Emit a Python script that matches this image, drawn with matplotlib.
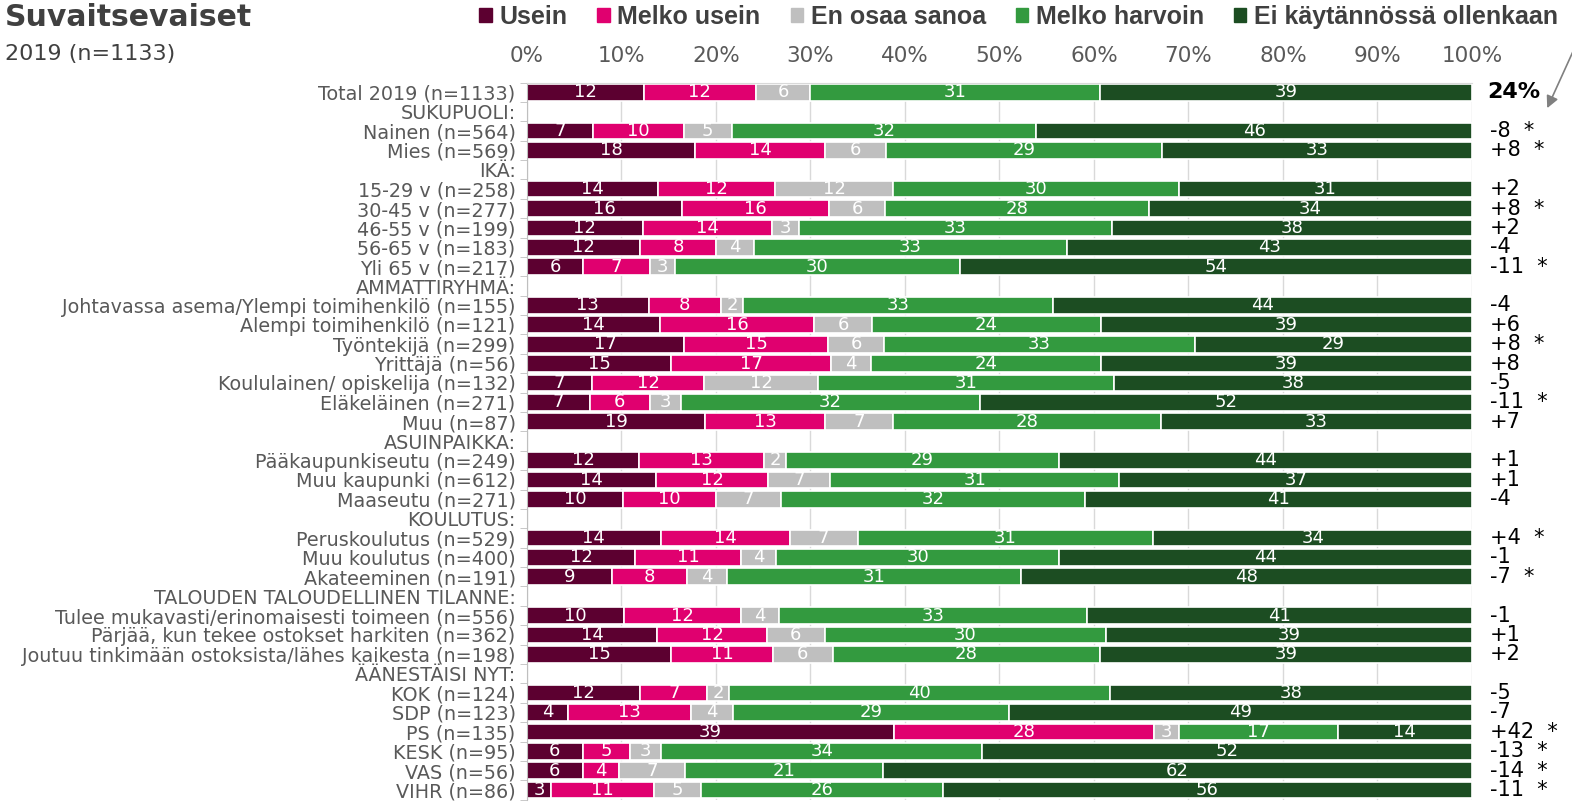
import numpy as np
import matplotlib
matplotlib.use("Agg")
import matplotlib.pyplot as plt
from matplotlib.patches import Patch
from matplotlib import font_manager

nan = np.nan

labels = ["Total 2019 (n=1133)", "SUKUPUOLI:", "Nainen (n=564)", "Mies (n=569)", "IKÄ:",
          "15-29 v (n=258)", "30-45 v (n=277)", "46-55 v (n=199)", "56-65 v (n=183)", "Yli 65 v (n=217)",
          "AMMATTIRYHMÄ:", "Johtavassa asema/Ylempi toimihenkilö (n=155)", "Alempi toimihenkilö (n=121)",
          "Työntekijä (n=299)", "Yrittäjä (n=56)", "Koululainen/ opiskelija (n=132)", "Eläkeläinen (n=271)",
          "Muu (n=87)", "ASUINPAIKKA:", "Pääkaupunkiseutu (n=249)", "Muu kaupunki (n=612)", "Maaseutu (n=271)",
          "KOULUTUS:", "Peruskoulutus (n=529)", "Muu koulutus (n=400)", "Akateeminen (n=191)",
          "TALOUDEN TALOUDELLINEN TILANNE:", "Tulee mukavasti/erinomaisesti toimeen (n=556)",
          "Pärjää, kun tekee ostokset harkiten (n=362)", "Joutuu tinkimään ostoksista/lähes kaikesta (n=198)",
          "ÄÄNESTÄISI NYT:", "KOK (n=124)", "SDP (n=123)", "PS (n=135)", "KESK (n=95)", "VAS (n=56)", "VIHR (n=86)"]

# shares in %, nan = group header row
usein = [12.4, nan, 7.0, 17.8, nan, 13.9, 16.4, 12.3, 12.0, 6.0, nan, 12.9, 14.1, 16.6, 15.3, 6.9, 6.7, 18.9,
         nan, 11.9, 13.7, 10.2, nan, 14.2, 11.5, 9.0, nan, 10.3, 13.8, 15.3, nan, 12.0, 4.4, 38.8, 5.9, 5.9, 2.6]
melko_usein = [11.8, nan, 9.6, 13.8, nan, 12.4, 15.6, 13.6, 8.0, 7.0, nan, 7.6, 16.3, 15.3, 16.9, 11.9, 6.3, 12.7,
               nan, 13.2, 11.8, 9.8, nan, 13.6, 11.2, 7.9, nan, 12.4, 11.6, 10.7, nan, 7.1, 13.0, 27.6, 5.0, 3.9, 10.9]
en_osaa = [5.8, nan, 5.1, 6.4, nan, 12.4, 5.9, 2.9, 4.0, 2.7, nan, 2.4, 6.1, 5.9, 4.2, 12.0, 3.3, 7.1,
           nan, 2.3, 6.6, 6.9, nan, 7.2, 3.7, 4.3, nan, 4.0, 6.1, 6.4, nan, 2.3, 4.4, 2.6, 3.3, 6.9, 4.9]
melko_harvoin = [30.6, nan, 32.2, 29.2, nan, 30.3, 27.9, 33.1, 33.2, 30.1, nan, 32.8, 24.2, 32.9, 24.3, 31.3, 31.7, 28.4,
                 nan, 28.9, 30.6, 32.2, nan, 31.3, 29.9, 31.1, nan, 32.6, 29.8, 28.2, nan, 40.3, 29.2, 16.8, 34.0, 21.0, 25.6]
ei_lainkaan = [39.4, nan, 46.1, 32.8, nan, 31.0, 34.2, 38.1, 42.8, 54.2, nan, 44.3, 39.3, 29.3, 39.3, 37.9, 52.0, 32.9,
               nan, 43.7, 37.3, 40.9, nan, 33.7, 43.7, 47.7, nan, 40.7, 38.7, 39.4, nan, 38.3, 49.0, 14.2, 51.8, 62.3, 56.0]

diffs = ["24%", "", "-8 *", "+8 *", "", "+2", "+8 *", "+2", "-4", "-11 *", "", "-4", "+6", "+8 *", "+8", "-5",
         "-11 *", "+7", "", "+1", "+1", "-4", "", "+4 *", "-1", "-7 *", "", "-1", "+1", "+2", "", "-5", "-7",
         "+42 *", "-13 *", "-14 *", "-11 *"]

series_names = ["Usein", "Melko usein", "En osaa sanoa", "Melko harvoin", "Ei käytännössä ollenkaan"]
colors = ["#5c0030", "#e0006f", "#bfbfbf", "#339a3f", "#1c4d22"]

plt.rcParams['font.family'] = ['DejaVu Sans']

# narrow bold font for the legend if there is one
installed = {f.name for f in font_manager.fontManager.ttflist}
if "Liberation Sans Narrow" in installed:
    leg_prop = {"family": "Liberation Sans Narrow", "weight": "bold", "size": 20}
else:
    leg_prop = {"family": "Liberation Sans", "weight": "bold", "size": 18}

fig = plt.figure(figsize=(15.72, 8.02), dpi=100)
ax = fig.add_axes([0.3351, 0.0029, 0.6013, 0.8942])

y = np.arange(len(labels))
left = np.zeros(len(labels))
for name, vals, col in zip(series_names, [usein, melko_usein, en_osaa, melko_harvoin, ei_lainkaan], colors):
    v = np.array(vals, dtype=float)
    bars = ax.barh(y, np.nan_to_num(v), left=left, height=0.86, color=col, edgecolor="white",
                   linewidth=1.2, label=name)
    txt = ["" if np.isnan(a) else str(int(round(a))) for a in v]
    ax.bar_label(bars, labels=txt, label_type="center", color="white", fontsize=13)
    left += np.nan_to_num(v)

for yi, d in zip(y, diffs):
    if d == "24%":
        ax.text(101.6, yi, d, va="center", ha="left", fontsize=16, fontweight="bold", color="black", clip_on=False)
    elif d:
        ax.text(101.9, yi, d.replace(" *", "  *"), va="center", ha="left", fontsize=15, color="black", clip_on=False)

ax.set_xlim(0, 100)
ax.set_ylim(len(labels) - 0.5, -0.5)
ax.xaxis.tick_top()
ax.set_xticks(np.arange(0, 101, 10))
ax.set_xticklabels([f"{t}%" for t in range(0, 101, 10)], fontsize=15.5, color="#595959")
ax.tick_params(axis="x", length=0, pad=12)
ax.set_yticks(y)
ax.set_yticklabels(labels, fontsize=13.8, color="#595959")
ax.tick_params(axis="y", which="major", length=0, pad=8)
ax.set_yticks(np.arange(-0.5, len(labels), 1), minor=True)
ax.tick_params(axis="y", which="minor", length=5, color="#bfbfbf")
ax.grid(axis="x", color="#d9d9d9", lw=1)
ax.set_axisbelow(True)
for s in ["right", "bottom"]:
    ax.spines[s].set_visible(False)
ax.spines["left"].set_color("#bfbfbf")
ax.spines["top"].set_color("#d9d9d9")

fig.text(0.003, 0.978, "Suvaitsevaiset", fontsize=21.5, fontweight="bold", color="#404040", va="center")
fig.text(0.003, 0.933, "2019 (n=1133)", fontsize=16, color="#404040", va="center")

handles = [Patch(color=c, label=n) for n, c in zip(series_names, colors)]
fig.legend(handles=handles, loc="center", bbox_to_anchor=(0.648, 0.979), ncol=5, frameon=False,
           handlelength=0.5, handleheight=0.5, handletextpad=0.3, columnspacing=1.2,
           prop=leg_prop, labelcolor="#404040")

ax.annotate("", xy=(0.9835, 0.862), xycoords="figure fraction", xytext=(1.003, 0.946),
            textcoords="figure fraction",
            arrowprops=dict(arrowstyle="-|>", color="#808080", lw=1.2, mutation_scale=18),
            annotation_clip=False)

fig.savefig("out.png", dpi=100)
